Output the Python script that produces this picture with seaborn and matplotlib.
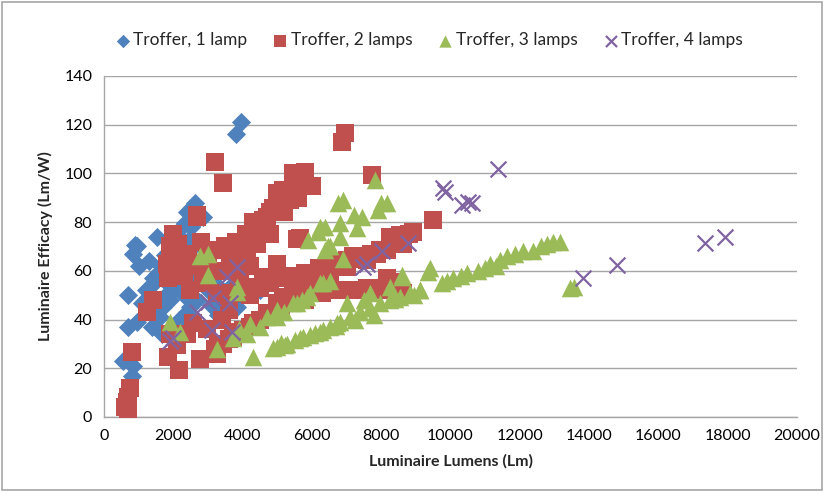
import matplotlib
matplotlib.use("Agg")
import matplotlib.pyplot as plt
import seaborn as sns
import pandas as pd
from matplotlib.patches import Rectangle

# ---- data (Luminaire Lumens, Luminaire Efficacy) ----
lamp1_lm = [3950, 3800, 2630, 2480, 2390, 2850, 2770, 2340, 1520, 2480, 4000, 900, 940, 850,
            1760, 1810, 1020, 1300, 2390, 1560, 1520, 1810, 1330, 700, 1900, 2480, 2680, 3250,
            3830, 4700, 4500, 1380, 700, 940, 1620, 2150, 750, 800, 850, 560, 1670, 1950, 2190,
            2390, 2000, 2200, 2300, 2100, 2500, 2600, 2200, 2000, 1800, 1700, 2300, 2700, 2900,
            3000, 3200, 3400, 3600, 1900, 2400, 2600, 1500, 1200, 1100, 2800, 3100, 3300, 3500,
            2000, 1650, 1400]
lamp1_eff = [121, 116, 88, 85, 84, 82, 82, 79.5, 74, 73, 74, 70.6, 70, 67,
             66.5, 66, 62, 64, 64, 59, 57, 55, 53.5, 50, 48, 45, 48, 48,
             45, 55, 52, 37, 37, 39, 41, 40, 24, 17, 21, 23, 34, 32, 36,
             43, 60, 68, 72, 76, 78, 70, 55, 52, 50, 45, 50, 58, 62,
             52, 55, 50, 53, 62, 60, 54, 44, 52, 47, 65, 46, 42, 60,
             70, 62, 57]

lamp2_lm = [6955, 6860, 5800, 5465, 5750, 7725, 9500, 5655, 3200, 3440, 2675, 2000, 2145, 3200,
            2435, 1950, 1860, 2290, 4310, 4600, 4890, 4985, 605, 700, 750, 800, 650, 2770,
            2175, 1860, 1230, 1425, 1860, 1905, 2385, 2095, 3200, 2965, 2580, 2480, 2865, 3250,
            3250, 3635, 4120, 4405, 4500, 4700, 4985, 5175, 5465, 5370, 5560, 6330, 6715, 6330,
            5850, 5370, 4985, 4700, 4310, 4020, 3730, 3440, 3250, 3730, 4120, 4600, 3925, 3540,
            3060, 2675, 2000, 1905, 2000, 1810, 2675, 8350, 8540, 8925, 8640, 8160, 7870, 7580,
            7290, 7000, 6715, 6430, 6430, 7000, 5850, 8160, 8255, 7965, 7195, 6620, 6380, 6525,
            5750, 7870, 8350, 4890, 5465, 5175, 8640, 6100, 5000, 4800, 4400, 4200, 3900, 5200,
            5600, 6000, 2300, 2800, 3000, 3400, 3600, 4000, 4300, 4700, 5000, 5300, 700,
            3500, 3800, 4100, 4400, 4800, 5100, 5300, 5600, 3000, 2800,
            4200, 4500, 4800, 5100, 5400, 5800, 6200, 6600, 7200, 7700, 8400, 8800,
            3300, 3600, 3900, 4200, 4500, 4800, 5100, 5400, 5800, 6300, 6800, 7300, 7600, 8000, 8500]
lamp2_eff = [116.5, 113, 100.7, 100, 98, 99.4, 81, 73.4, 104.8, 96, 82, 75, 71, 68.6,
             67, 66, 59, 60, 75, 81, 86, 92, 4.2, 8.3, 11.8, 26.8, 6, 24,
             19.3, 24.8, 43, 48, 57, 34, 34, 29.6, 28, 36, 38.5, 52, 55, 51,
             68.6, 64.5, 64.5, 71, 78, 82, 87.7, 93, 99.4, 89, 73, 60, 61.7, 53.5,
             51, 48, 45, 42.6, 38.5, 35.7, 33, 30, 26, 50.8, 53.5, 57.6, 57.6, 60,
             60, 63, 64.5, 70, 62, 63, 83, 73.4, 74.7, 76, 71, 68.6, 67, 64.5,
             66, 64.5, 63, 61.7, 59, 61.7, 56, 57, 74, 68.6, 66, 61.7, 60, 57.6,
             50.8, 52.8, 55.6, 41, 50.8, 49.4, 50.8, 58, 47, 75, 72, 62, 55, 84,
             90, 95, 58, 72, 65, 40, 44, 68, 80, 77, 63, 47, 3,
             70, 72, 75, 79, 84, 88, 92, 96, 65, 62,
             50, 53, 55, 57, 58, 59, 61, 63, 65, 67, 72, 75,
             30, 32, 35, 37, 40, 42, 45, 47, 48, 51, 52, 52, 53, 52, 50]

lamp3_lm = [7820, 6905, 8160, 7915, 7435, 6810, 6380, 6185, 7290, 6810, 5895, 6525, 6380, 8590,
            9410, 2770, 3010, 3010, 3830, 3830, 1905, 2190, 3250, 4310, 3730, 4120, 4500, 4985,
            5560, 5945, 6330, 4985, 5270, 5750, 6330, 6715, 6235, 6475, 6760, 4890, 5225, 5655,
            5945, 6235, 6525, 6810, 7100, 7390, 7675, 7965, 8255, 8540, 8830, 9120, 7675, 8255,
            8590, 9360, 5850, 5465, 4985, 4700, 6525, 6235, 9745, 10080, 10470, 11000, 11140, 11430,
            11620, 11860, 12100, 12390, 12775, 12970, 13160, 13450, 13550, 9120, 8000, 7200, 6900,
            5100, 5500, 6100, 6700, 7250, 7800, 8400, 8950, 9900, 10300, 10800, 11300, 12600,
            5200, 5700, 7000, 7500, 4200, 3900]
lamp3_eff = [97.3, 89, 87.7, 85, 82, 79.5, 78, 76, 77.4, 74, 72.7, 70, 68.6, 58.3,
             61, 66, 67, 58.3, 53.5, 51.4, 39, 35, 28, 24.8, 32.3, 34, 37, 41,
             46.7, 50.8, 55, 28.9, 30, 33, 35.7, 38.5, 78, 70, 87.7, 28.2, 29.6, 32.3,
             33.7, 35, 37, 39, 41, 43, 44.6, 46.7, 48, 49.4, 50.8, 52, 50.8, 53.5,
             57.6, 59.7, 49.4, 46.7, 44, 41, 56, 55, 55, 57, 59, 61, 63, 64.5,
             66, 67, 68, 68, 71, 72, 72, 52.8, 53.5, 52, 88, 83, 65,
             30.5, 31.5, 34.5, 37.5, 40, 42, 48.5, 50, 56, 58, 60, 62, 70,
             43, 48, 47, 48, 38, 36]

lamp4_lm = [11380, 9790, 9840, 10320, 10510, 10610, 13830, 17350, 17920, 14800, 8780, 8010, 7580,
            7480, 3830, 3540, 3155, 3010, 3635, 2675, 3110, 3685, 1905, 2000]
lamp4_eff = [102, 94, 92.5, 87, 88.4, 87.7, 57, 71.3, 74, 62.4, 71.3, 68, 63,
             61.7, 61.7, 57.6, 48.7, 47.3, 46.7, 43, 35.7, 35, 31, 32.3]

series_names = ["Troffer, 1 lamp", "Troffer, 2 lamps", "Troffer, 3 lamps", "Troffer, 4 lamps"]

frames = []
for name, xs, ys in zip(series_names, [lamp1_lm, lamp2_lm, lamp3_lm, lamp4_lm],
                        [lamp1_eff, lamp2_eff, lamp3_eff, lamp4_eff]):
    frames.append(pd.DataFrame({"lm": xs, "eff": ys, "series": name}))
df = pd.concat(frames, ignore_index=True)

sns.set_style("white")
plt.rcParams["font.family"] = ["Lato", "DejaVu Sans"]

fig = plt.figure(figsize=(8.29, 4.95), dpi=100)
ax = fig.add_axes([0.1255, 0.1576, 0.8359, 0.6889])

colors = ["#4F81BD", "#C0504D", "#9BBB59", "#8064A2"]
markers = ["D", "s", "^", "x"]
sizes = [95, 150, 160, 130]
for name, c, m, s in zip(series_names, colors, markers, sizes):
    sub = df[df["series"] == name]
    kw = dict(linewidth=1.6) if m == "x" else dict(linewidth=0)
    sns.scatterplot(data=sub, x="lm", y="eff", ax=ax, color=c, marker=m, s=s,
                    label=name, zorder=3, **kw)

ax.set_xlim(0, 20000)
ax.set_ylim(0, 140)
ax.set_xticks(range(0, 20001, 2000))
ax.set_yticks(range(0, 141, 20))
ax.yaxis.grid(True, color="#A6A6A6", linewidth=1)
ax.set_axisbelow(True)
for sp in ["top", "right"]:
    ax.spines[sp].set_visible(False)
for sp in ["left", "bottom"]:
    ax.spines[sp].set_color("#A6A6A6")
    ax.spines[sp].set_linewidth(1)
ax.tick_params(axis="both", which="both", length=5, direction="out",
               labelsize=11.5, colors="#A6A6A6")
for lab in ax.get_xticklabels() + ax.get_yticklabels():
    lab.set_color("black")
ax.set_xlabel("Luminaire Lumens (Lm)", fontsize=11.5, fontweight="bold", labelpad=8)
ax.set_ylabel("Luminaire Efficacy (Lm/W)", fontsize=11.5, fontweight="bold", labelpad=8)

leg = ax.legend(loc="lower center", bbox_to_anchor=(0.467, 1.035), ncol=4, frameon=False,
                fontsize=12.5, handletextpad=0.0, columnspacing=1.3, markerscale=0.7,
                handlelength=1.2)

fig.patches.append(Rectangle((0.003, 0.01), 0.989, 0.985, transform=fig.transFigure,
                             fill=False, edgecolor="#A6A6A6", linewidth=1.2))

fig.savefig("out.png", dpi=100)
